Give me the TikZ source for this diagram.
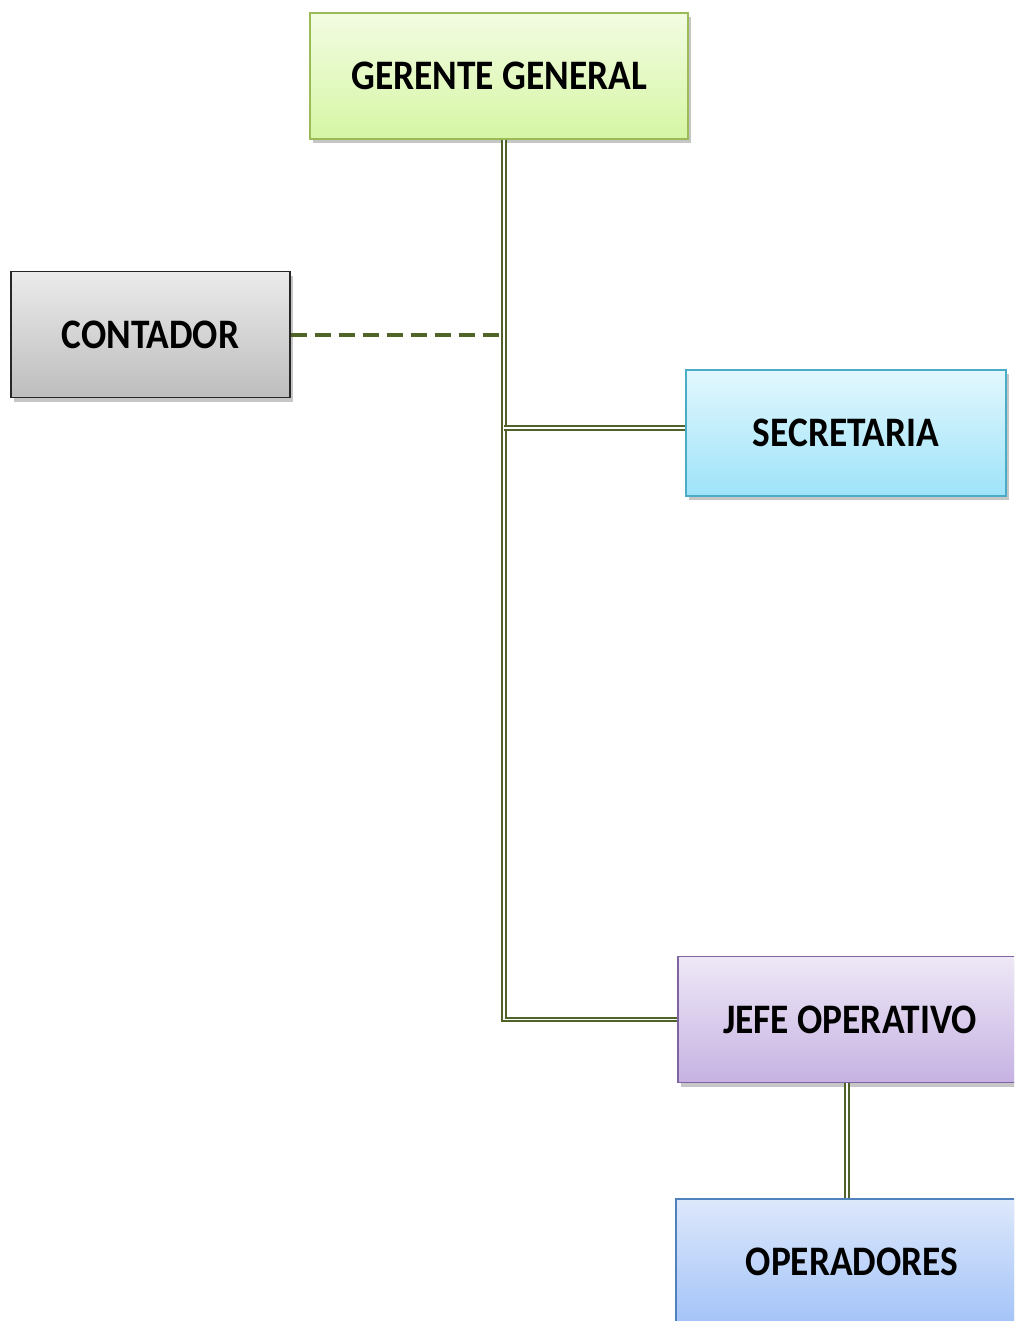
\documentclass[tikz,border=0pt]{standalone}
\usepackage{fontspec}
\setmainfont{Carlito}
\newfontfamily\boxfont[FakeStretch=0.89]{Carlito}
\usetikzlibrary{shadows}
\definecolor{linkgreen}{HTML}{4F6228}
\definecolor{dashgreen}{HTML}{4F6228}
\definecolor{gerTop}{HTML}{F2FCE2}
\definecolor{gerBot}{HTML}{D6F6A4}
\definecolor{gerLine}{HTML}{9BBB59}
\definecolor{conTop}{HTML}{EBEBEB}
\definecolor{conBot}{HTML}{BDBDBD}
\definecolor{secTop}{HTML}{E2F7FD}
\definecolor{secBot}{HTML}{9EE3F9}
\definecolor{secLine}{HTML}{4BACC6}
\definecolor{jefTop}{HTML}{EEE8F6}
\definecolor{jefBot}{HTML}{C6B2E3}
\definecolor{jefLine}{HTML}{8064A2}
\definecolor{opeTop}{HTML}{DDE8FB}
\definecolor{opeBot}{HTML}{A3C3F8}
\definecolor{opeLine}{HTML}{4F81BD}
\tikzset{
  puesto/.style={draw, line width=0.8pt, inner sep=0pt, minimum width=#1*0.5pt,
    minimum height=63pt, font=\boxfont\bfseries\fontsize{21}{24}\selectfont,
    drop shadow={opacity=0.45, shadow xshift=1.5pt, shadow yshift=-2pt}},
  link/.style={draw=linkgreen, line width=0.9pt, double=white, double distance=0.9pt},
  staff/.style={draw=dashgreen, line width=2pt, dash pattern=on 8pt off 4pt}
}
\begin{document}
\begin{tikzpicture}[x=0.5pt, y=-0.5pt]
  \useasboundingbox (0,0) rectangle (1014,1321);
  \clip (0,0) rectangle (1014,1321);
  % cargos
  \node[puesto=378, draw=gerLine, top color=gerTop, bottom color=gerBot] (ger) at (499,76) {GERENTE GENERAL};
  \node[puesto=279, draw=black!85, top color=conTop, bottom color=conBot] (cont) at (150.5,334.5) {CONTADOR};
  \node[puesto=320, draw=secLine, top color=secTop, bottom color=secBot] (sec) at (846,433) {SECRETARIA};
  \node[puesto=344, draw=jefLine, top color=jefTop, bottom color=jefBot] (jefe) at (850,1019.5) {JEFE OPERATIVO};
  \node[puesto=352, draw=opeLine, top color=opeTop, bottom color=opeBot] (oper) at (852,1262) {OPERADORES};
  % lineas
  \coordinate (trunk) at (504,1016);
  \draw[link] (ger.south -| trunk) |- (jefe.west);
  \draw[link] (trunk |- 0,428) -- (sec.west |- 0,428);
  \draw[link] (jefe.south -| 847,0) -- (oper.north -| 847,0);
  \draw[staff] (cont.east) -- (cont.east -| trunk);
\end{tikzpicture}
\end{document}
